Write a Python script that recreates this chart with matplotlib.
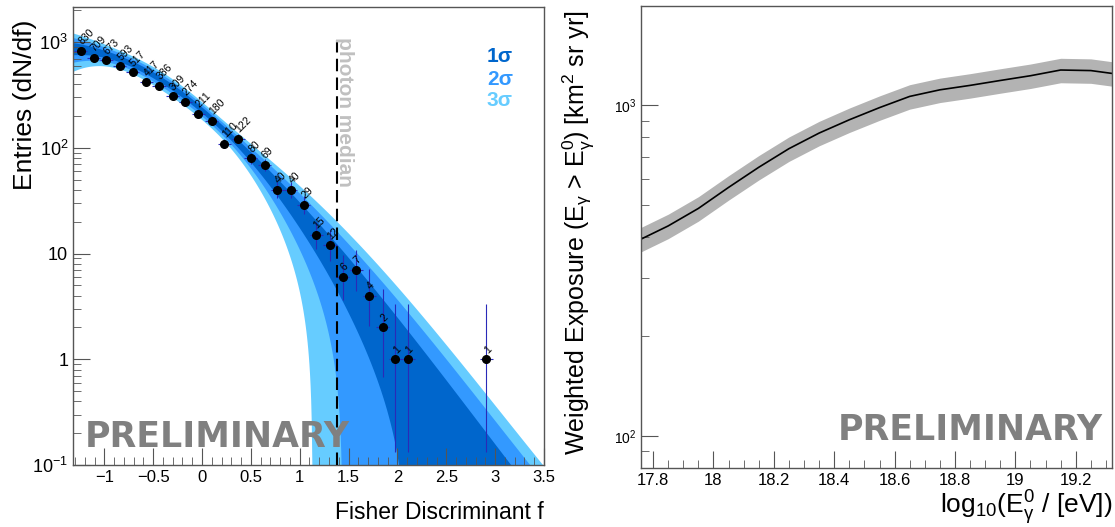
import numpy as np
import matplotlib
matplotlib.use("Agg")
import matplotlib.pyplot as plt
from matplotlib.ticker import MultipleLocator, LogLocator, NullFormatter, FixedLocator, FuncFormatter

plt.rcParams['font.family'] = ['Liberation Sans', 'DejaVu Sans']
plt.rcParams['mathtext.fontset'] = 'custom'
plt.rcParams['mathtext.rm'] = 'Liberation Sans'
plt.rcParams['mathtext.it'] = 'Liberation Sans:italic'
plt.rcParams['mathtext.default'] = 'regular'

# fisher discriminant histogram (bin centres, entries)
fisher_x = [-1.24, -1.11, -0.98, -0.84, -0.71, -0.57, -0.44, -0.30, -0.17, -0.04,
            0.10, 0.23, 0.37, 0.50, 0.64, 0.77, 0.91, 1.04, 1.17, 1.31,
            1.44, 1.58, 1.71, 1.85, 1.98, 2.11, 2.91]
entries = [830, 709, 673, 593, 517, 417, 386, 309, 274, 211,
           180, 110, 122, 80, 69, 40, 40, 29, 15, 12,
           6, 7, 4, 2, 1, 1, 1]
bin_half = 0.067

# fit: log10(y) polynomial, relative error polynomial
fit_coef = [2.358, -0.7807, -0.2234, 0.02662]
err_coef = [0.0993, 0.1554, 0.01029]
err_floor = 0.064
photon_median = 1.38

# exposure curve
exp_x = [17.76, 17.85, 17.95, 18.05, 18.15, 18.25, 18.35, 18.45, 18.55, 18.65,
         18.75, 18.85, 18.95, 19.05, 19.15, 19.25, 19.32]
exp_y = [394, 432, 488, 565, 650, 740, 825, 905, 985, 1065,
         1115, 1150, 1190, 1230, 1280, 1275, 1250]
exp_rel_err = 0.085

c1, c2, c3 = '#0066cc', '#3399ff', '#66ccff'
frame = '#555555'


def root_log(v, pos):
    e = int(round(np.log10(v)))
    if e == 0:
        return '1'
    if e == 1:
        return '10'
    return r'$10^{%d}$' % e


fig = plt.figure(figsize=(11.15, 5.27), dpi=100)
ax1 = fig.add_axes([0.0655, 0.1176, 0.4224, 0.869])
ax2 = fig.add_axes([0.5749, 0.112, 0.4224, 0.8767])

# ---- left panel
xx = np.linspace(-1.32, 3.5, 800)
yc = 10 ** (fit_coef[0] + fit_coef[1] * xx + fit_coef[2] * xx**2 + fit_coef[3] * xx**3)
p = err_coef[0] * xx + err_coef[1] * xx**2 + err_coef[2] * xx**3
r = np.sqrt(err_floor**2 + p**2)
for k, col in [(3, c3), (2, c2), (1, c1)]:
    lo = yc * (1 - k * r)
    lo = np.where(lo > 1e-4, lo, 1e-4)
    hi = yc * (1 + k * r)
    ax1.fill_between(xx, lo, hi, color=col, lw=0, zorder=1)

n = np.array(entries, dtype=float)
err_hi = np.sqrt(n + 0.75) + 1
err_lo = np.sqrt(n - 0.25)
ax1.errorbar(fisher_x, entries, yerr=[err_lo, err_hi], xerr=bin_half, fmt='none',
             ecolor='#2a2ab8', elinewidth=0.8, capsize=0, zorder=3)
ax1.plot(fisher_x, entries, 'o', color='black', ms=5.5, zorder=4)
for xv, yv in zip(fisher_x, entries):
    ax1.annotate(str(yv), (xv, yv), xytext=(2, 3), textcoords='offset points',
                 fontsize=7.5, rotation=45, rotation_mode='anchor',
                 ha='left', va='bottom', zorder=5)

ax1.plot([photon_median, photon_median], [0.1, 1150], color='black', lw=1.5,
         ls=(0, (6, 3)), zorder=3)
ax1.text(photon_median + 0.08, 0.935, 'photon median', transform=ax1.get_xaxis_transform(),
         rotation=-90, ha='center', va='top', color='#c0c0c0', fontsize=15, fontweight='bold')

ax1.text(0.934, 0.891, '1σ', color=c1, transform=ax1.transAxes, ha='right', va='center',
         fontsize=15, fontweight='bold')
ax1.text(0.934, 0.841, '2σ', color=c2, transform=ax1.transAxes, ha='right', va='center',
         fontsize=15, fontweight='bold')
ax1.text(0.934, 0.795, '3σ', color=c3, transform=ax1.transAxes, ha='right', va='center',
         fontsize=15, fontweight='bold')
ax1.text(0.025, 0.04, 'PRELIMINARY', color='#808080', transform=ax1.transAxes,
         fontsize=25, fontweight='bold', family='DejaVu Sans', zorder=6)

ax1.set_yscale('log')
ax1.set_xlim(-1.32, 3.5)
ax1.set_ylim(0.1, 2150)
ax1.xaxis.set_minor_locator(MultipleLocator(0.1))
ax1.set_xticks([-1, -0.5, 0, 0.5, 1, 1.5, 2, 2.5, 3, 3.5])
ax1.set_xticklabels(['\u22121', '\u22120.5', '0', '0.5', '1', '1.5', '2', '2.5', '3', '3.5'])
ax1.yaxis.set_major_locator(FixedLocator([0.1, 1, 10, 100, 1000]))
ax1.yaxis.set_major_formatter(FuncFormatter(root_log))
ax1.yaxis.set_minor_locator(LogLocator(base=10, subs=np.arange(2, 10)))
ax1.yaxis.set_minor_formatter(NullFormatter())
ax1.tick_params(axis='x', labelsize=12)
ax1.tick_params(axis='y', labelsize=13)
ax1.set_xlabel('Fisher Discriminant f', fontsize=16.5, loc='right')
ax1.xaxis.set_label_coords(1.0, -0.078)
ax1.set_ylabel('Entries (dN/df)', fontsize=19, loc='top')
ax1.yaxis.set_label_coords(-0.076, 0.972)

# ---- right panel
ex = np.array(exp_x)
ey = np.array(exp_y, dtype=float)
ax2.fill_between(ex, ey * (1 - exp_rel_err), ey * (1 + exp_rel_err), color='#b3b3b3', lw=0)
ax2.plot(ex, ey, color='black', lw=1.2)
ax2.set_yscale('log')
ax2.set_xlim(17.76, 19.32)
ax2.set_ylim(80, 2000)
ax2.xaxis.set_major_locator(MultipleLocator(0.2))
ax2.xaxis.set_minor_locator(MultipleLocator(0.05))
ax2.xaxis.set_major_formatter(FuncFormatter(lambda v, pos: '%g' % round(v, 2)))
ax2.yaxis.set_major_locator(FixedLocator([100, 1000]))
ax2.yaxis.set_major_formatter(FuncFormatter(root_log))
ax2.yaxis.set_minor_locator(LogLocator(base=10, subs=np.arange(2, 10)))
ax2.yaxis.set_minor_formatter(NullFormatter())
ax2.tick_params(axis='x', labelsize=12)
ax2.tick_params(axis='y', labelsize=10)
ax2.text(0.98, 0.06, 'PRELIMINARY', color='#808080', transform=ax2.transAxes,
         ha='right', fontsize=25, fontweight='bold', family='DejaVu Sans')
ax2.set_xlabel(r'log$_{10}$(E$^{0}_{\gamma}$ / [eV])', fontsize=19, loc='right')
ax2.xaxis.set_label_coords(1.0, -0.045)
ax2.set_ylabel(r'Weighted Exposure (E$_{\gamma}$ > E$^{0}_{\gamma}$) [km$^{2}$ sr yr]',
               fontsize=18, loc='top')
ax2.yaxis.set_label_coords(-0.095, 0.991)

for ax in (ax1, ax2):
    for s in ax.spines.values():
        s.set_color(frame)
        s.set_linewidth(1)
    ax.tick_params(which='major', direction='in', length=12, color=frame)
    ax.tick_params(which='minor', direction='in', length=6, color=frame)

fig.savefig('out.png', dpi=100)
